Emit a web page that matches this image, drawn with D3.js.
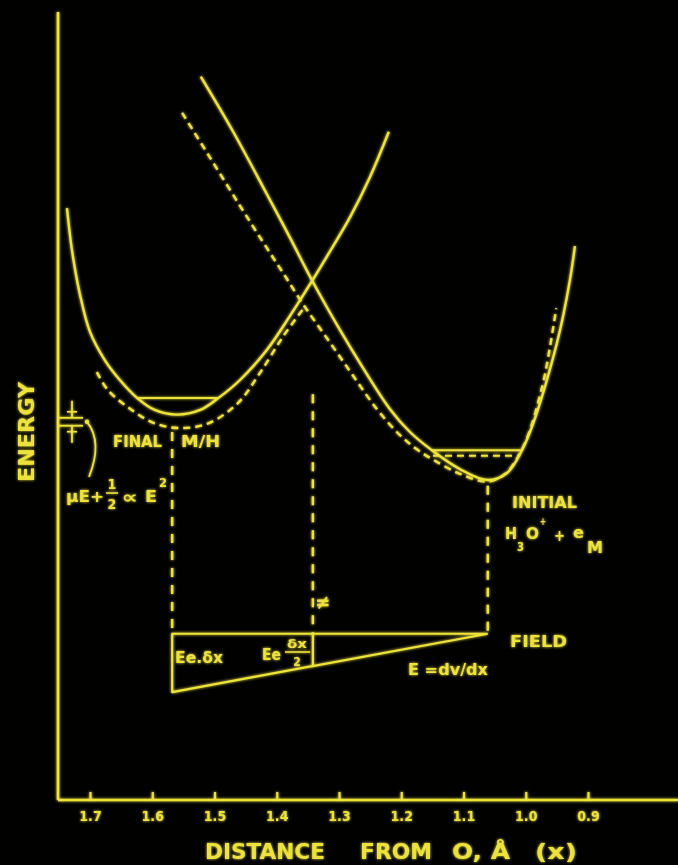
<!DOCTYPE html>
<html>
<head>
<meta charset="utf-8">
<script src="https://cdn.jsdelivr.net/npm/d3@7"></script>
<style>
  html, body { margin: 0; padding: 0; background: #000; }
  svg { display: block; }
  text { font-family: "Liberation Sans Narrow", "DejaVu Sans Condensed", "Liberation Sans", Arial, sans-serif; font-weight: bold; fill: #ece23e; }
</style>
</head>
<body>
<script>
// Potential energy curves: energy (arbitrary units) vs. distance from O (Å)
const tickValues = [1.7, 1.6, 1.5, 1.4, 1.3, 1.2, 1.1, 1.0, 0.9];
const tickLabels = ["1.7", "1.6", "1.5", "1.4", "1.3", "1.2", "1.1", "1.0", "0.9"];

// final state M/H, no field
const finalSolid = [
  [1.737, 75.1], [1.729, 69.8], [1.716, 64.1], [1.700, 59.4], [1.676, 55.8],
  [1.652, 53.3], [1.624, 51.0], [1.596, 49.5], [1.560, 48.9], [1.523, 49.5],
  [1.494, 51.0], [1.459, 53.3], [1.416, 57.1], [1.379, 61.4], [1.343, 65.9],
  [1.314, 69.7], [1.282, 74.0], [1.250, 79.1], [1.220, 84.8]
];
// final state in the field
const finalDashed = [
  [1.689, 54.3], [1.671, 52.0], [1.633, 49.5], [1.596, 47.8], [1.555, 47.2],
  [1.510, 47.8], [1.462, 50.4], [1.427, 54.2], [1.390, 58.8], [1.355, 62.6]
];
// initial state H3O+ + e, no field
const initialSolid = [
  [1.522, 91.8], [1.470, 84.8], [1.416, 76.9], [1.379, 71.4], [1.343, 65.9],
  [1.298, 59.6], [1.258, 54.4], [1.218, 49.6], [1.186, 46.7], [1.151, 44.4],
  [1.106, 42.0], [1.061, 40.6], [1.030, 41.5], [1.006, 44.4], [0.988, 47.8],
  [0.966, 53.3], [0.945, 59.6], [0.929, 66.0], [0.921, 70.3]
];
// initial state in the field
const initialDashed = [
  [1.552, 87.2], [1.507, 81.5], [1.459, 75.4], [1.422, 70.8], [1.390, 66.9],
  [1.355, 62.6], [1.314, 58.0], [1.277, 53.8], [1.239, 49.6], [1.202, 46.3],
  [1.175, 44.5], [1.149, 43.2], [1.106, 41.4], [1.061, 40.4], [1.033, 41.4],
  [1.008, 44.2], [0.990, 47.7], [0.977, 51.4], [0.971, 53.3], [0.961, 57.5],
  [0.951, 62.4]
];

// zero-point levels: [from distance, to distance, energy, dashed?]
const levels = [
  [1.624, 1.494, 51.0, false],
  [1.151, 1.006, 44.4, false],
  [1.149, 1.009, 43.7, true]
];

// drop lines from the minima and the crossing point: [distance, top energy]
const dropLines = [[1.568, 47.2], [1.342, 52.0], [1.061, 40.4]];

// field triangle: potential across the gap
const fieldLeft = 1.568, fieldRight = 1.061, fieldMid = 1.342;
const fieldTop = 21.1, fieldBottom = 13.7;

// field-induced shift of the final level
const shiftLevels = [48.5, 47.5];

const W = 678, H = 865;
const yellow = "#ede33d";

const x = d3.scaleLinear().domain([1.7, 0.9]).range([90, 588]);
const y = d3.scaleLinear().domain([0, 100]).range([800, 12]);

const svg = d3.select("body").append("svg").attr("width", W).attr("height", H);
svg.append("rect").attr("width", W).attr("height", H).attr("fill", "#010100");

const defs = svg.append("defs");
const glow = defs.append("filter").attr("id", "glow").attr("x", "-5%").attr("y", "-5%").attr("width", "110%").attr("height", "110%");
glow.append("feGaussianBlur").attr("in", "SourceGraphic").attr("stdDeviation", 1.6).attr("result", "b");
const merge = glow.append("feMerge");
merge.append("feMergeNode").attr("in", "b");
merge.append("feMergeNode").attr("in", "SourceGraphic");

const g = svg.append("g").attr("filter", "url(#glow)");

// axes
const xMin = x.invert(58), xMax = x.invert(678);
g.append("line").attr("x1", x(xMin)).attr("x2", x(xMin)).attr("y1", y(0)).attr("y2", y(100))
  .attr("stroke", yellow).attr("stroke-width", 2.6);
g.append("line").attr("x1", x(xMin)).attr("x2", x(xMax)).attr("y1", y(0)).attr("y2", y(0))
  .attr("stroke", yellow).attr("stroke-width", 2.6);

const xAxis = d3.axisBottom(x).tickValues(tickValues).tickSize(-8).tickPadding(11)
  .tickFormat((d, i) => tickLabels[i]);
const ax = g.append("g").attr("transform", `translate(0,${y(0)})`).call(xAxis);
ax.select(".domain").remove();
ax.selectAll(".tick line").attr("stroke", yellow).attr("stroke-width", 2.2);
ax.selectAll(".tick text").attr("fill", yellow).attr("font-size", 14)
  .attr("font-family", "'Liberation Sans Narrow','DejaVu Sans Condensed','Liberation Sans',sans-serif")
  .attr("font-weight", "bold");

// curves
const line = d3.line().x(d => x(d[0])).y(d => y(d[1])).curve(d3.curveCatmullRom.alpha(0.5));
function curve(data, dashed) {
  g.append("path").attr("d", line(data)).attr("fill", "none")
    .attr("stroke", yellow).attr("stroke-width", 2.4)
    .attr("stroke-dasharray", dashed ? "7,5" : null)
    .attr("stroke-linecap", "butt");
}
curve(finalSolid, false);
curve(initialSolid, false);
curve(finalDashed, true);
curve(initialDashed, true);

levels.forEach(([a, b, e, dashed]) => {
  g.append("line").attr("x1", x(a)).attr("x2", x(b)).attr("y1", y(e)).attr("y2", y(e))
    .attr("stroke", yellow).attr("stroke-width", 2)
    .attr("stroke-dasharray", dashed ? "7,5" : null);
});

dropLines.forEach(([d, e]) => {
  g.append("line").attr("x1", x(d)).attr("x2", x(d)).attr("y1", y(e) + 4).attr("y2", y(fieldTop))
    .attr("stroke", yellow).attr("stroke-width", 2.4).attr("stroke-dasharray", "9,8");
});

// field triangle
const hyp = d => fieldBottom + (fieldTop - fieldBottom) * (d - fieldLeft) / (fieldRight - fieldLeft);
g.append("path")
  .attr("d", d3.line()([[x(fieldRight), y(fieldTop)], [x(fieldLeft), y(fieldTop)], [x(fieldLeft), y(fieldBottom)], [x(fieldRight), y(fieldTop)]]))
  .attr("fill", "none").attr("stroke", yellow).attr("stroke-width", 2.2).attr("stroke-linejoin", "round");
g.append("line").attr("x1", x(fieldMid)).attr("x2", x(fieldMid))
  .attr("y1", y(fieldTop)).attr("y2", y(hyp(fieldMid)))
  .attr("stroke", yellow).attr("stroke-width", 2.2);

// level-shift marker on the energy axis
const bx0 = x(xMin), bx1 = bx0 + 25, bxm = bx0 + 14;
shiftLevels.forEach(e => {
  g.append("line").attr("x1", bx0).attr("x2", bx1).attr("y1", y(e)).attr("y2", y(e))
    .attr("stroke", yellow).attr("stroke-width", 1.8);
});
g.append("line").attr("x1", bxm).attr("x2", bxm).attr("y1", y(shiftLevels[0]) - 17).attr("y2", y(shiftLevels[0]))
  .attr("stroke", yellow).attr("stroke-width", 1.8);
g.append("line").attr("x1", bxm).attr("x2", bxm).attr("y1", y(shiftLevels[1])).attr("y2", y(shiftLevels[1]) + 17)
  .attr("stroke", yellow).attr("stroke-width", 1.8);
g.append("line").attr("x1", bxm - 5).attr("x2", bxm + 5).attr("y1", y(shiftLevels[0]) - 6).attr("y2", y(shiftLevels[0]) - 6)
  .attr("stroke", yellow).attr("stroke-width", 1.6);
g.append("line").attr("x1", bxm - 5).attr("x2", bxm + 5).attr("y1", y(shiftLevels[1]) + 6).attr("y2", y(shiftLevels[1]) + 6)
  .attr("stroke", yellow).attr("stroke-width", 1.6);
const ay0 = y(shiftLevels[0]) + 4;
const arrow = d3.path();
arrow.moveTo(bx0 + 29, ay0);
arrow.quadraticCurveTo(bx0 + 45, ay0 + 20, bx0 + 31, ay0 + 55);
g.append("path").attr("d", arrow.toString()).attr("fill", "none").attr("stroke", yellow).attr("stroke-width", 1.8);
g.append("circle").attr("cx", bx0 + 29).attr("cy", ay0).attr("r", 2.2).attr("fill", yellow);

// labels
function label(txt, px, py, size, len, anchor) {
  const t = g.append("text").attr("x", px).attr("y", py).attr("font-size", size)
    .attr("dominant-baseline", "central").attr("text-anchor", anchor || "start").text(txt);
  if (len) t.attr("textLength", len).attr("lengthAdjust", "spacingAndGlyphs");
  return t;
}

g.append("text").attr("transform", "translate(26,432) rotate(-90)")
  .attr("text-anchor", "middle").attr("dominant-baseline", "central")
  .attr("font-size", 22).attr("textLength", 100).attr("lengthAdjust", "spacingAndGlyphs").text("ENERGY");

label("DISTANCE", 205, 851, 22, 120);
label("FROM", 360, 851, 22, 72);
label("O, Å", 452, 851, 22, 58);
label("(x)", 535, 851, 22, 42);

label("FINAL", 113, 442, 15, 49);
label("M/H", 181, 442, 15, 39);

label("INITIAL", 512, 502, 16, 65);
label("H", 505, 533, 16, 12);
label("3", 517, 547, 12, 7);
label("O", 526, 533, 16, 13);
label("+", 540, 521, 11, 6);
label("+", 554, 535, 16, 11);
label("e", 573, 532, 16, 11);
label("M", 587, 547, 16, 16);

label("FIELD", 510, 642, 15, 57);
label("E =dv/dx", 408, 670, 15, 80);

label("Ee.δx", 175, 658, 15, 48);
label("Ee", 262, 655, 15, 19);
label("δx", 287, 644, 12, 20);
g.append("line").attr("x1", 285).attr("x2", 310).attr("y1", 652).attr("y2", 652).attr("stroke", yellow).attr("stroke-width", 1.6);
label("2", 297, 662, 12, null, "middle");

label("≠", x(fieldMid) + 10, 602, 20, null, "middle");

label("μE+", 66, 496, 16, 38);
label("1", 112, 484, 14, null, "middle");
g.append("line").attr("x1", 106).attr("x2", 118).attr("y1", 493).attr("y2", 493).attr("stroke", yellow).attr("stroke-width", 1.6);
label("2", 112, 504, 14, null, "middle");
label("∝", 122, 497, 17, 16);
label("E", 145, 496, 16, 12);
label("2", 159, 482, 13, 8);
</script>
</body>
</html>
